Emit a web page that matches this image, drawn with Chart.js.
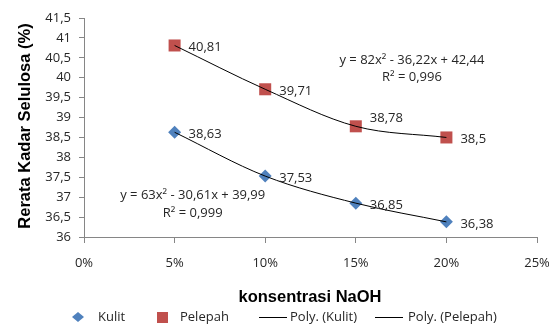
<!DOCTYPE html>
<html>
<head>
<meta charset="utf-8">
<script src="https://cdn.jsdelivr.net/npm/chart.js@4"></script>
<style>
  html, body { margin: 0; padding: 0; background: #fff; }
  #wrap { width: 549px; height: 324px; }
</style>
</head>
<body>
<div id="wrap"><canvas id="c" width="549" height="324"></canvas></div>
<script>
// data
const konsentrasi = [0.05, 0.10, 0.15, 0.20];
const kulit = [38.63, 37.53, 36.85, 36.38];
const pelepah = [40.81, 39.71, 38.78, 38.5];
const xTicks = [0, 0.05, 0.10, 0.15, 0.20, 0.25];
const eqKulit = ["y = 63x² - 30,61x + 39,99", "R² = 0,999"];
const eqPelepah = ["y = 82x² - 36,22x + 42,44", "R² = 0,996"];

const FONT = "'Open Sans', sans-serif";
const BLUE = "#4F81BD";
const RED = "#C0504D";
const TXT = "#262626";
const AXIS = "#868686";

const pts = arr => konsentrasi.map((x, i) => ({ x, y: arr[i] }));
const fmt = v => String(v).replace(".", ",");

// label tweaks (Excel moved one label up)
const labelShift = { "1-2": -8 };

const labelsPlugin = {
  id: "labels",
  afterDatasetsDraw(chart) {
    const { ctx } = chart;
    ctx.save();
    ctx.font = "13px " + FONT;
    ctx.fillStyle = TXT;
    ctx.textBaseline = "middle";
    ctx.textAlign = "left";
    [0, 1].forEach(di => {
      const meta = chart.getDatasetMeta(di);
      const data = chart.data.datasets[di].data;
      meta.data.forEach((p, i) => {
        const dy = labelShift[di + "-" + i] || 2;
        ctx.fillText(fmt(data[i].y), p.x + 14, p.y + dy);
      });
    });
    // trend equations
    const { x, y } = chart.scales;
    ctx.textAlign = "center";
    ctx.fillText(eqPelepah[0], x.getPixelForValue(0.181), y.getPixelForValue(40.45));
    ctx.fillText(eqPelepah[1], x.getPixelForValue(0.181), y.getPixelForValue(40.0));
    ctx.fillText(eqKulit[0], x.getPixelForValue(0.060), y.getPixelForValue(37.05));
    ctx.fillText(eqKulit[1], x.getPixelForValue(0.060), y.getPixelForValue(36.6));
    ctx.restore();
  }
};

const titlesPlugin = {
  id: "titles",
  afterDraw(chart) {
    const { ctx } = chart;
    ctx.save();
    ctx.fillStyle = "#000";
    ctx.font = "bold 16.5px 'Liberation Sans', Arial, sans-serif";
    ctx.textAlign = "center";
    ctx.textBaseline = "middle";
    ctx.fillText("konsentrasi NaOH", 310, 297);
    ctx.translate(25, 126);
    ctx.rotate(-Math.PI / 2);
    ctx.fillText("Rerata Kadar Selulosa (%)", 0, 0);
    ctx.restore();

    // legend
    ctx.save();
    ctx.font = "13px " + FONT;
    ctx.fillStyle = TXT;
    ctx.textBaseline = "middle";
    const ly = 317;
    ctx.fillStyle = BLUE;
    ctx.beginPath();
    ctx.moveTo(78, ly - 5); ctx.lineTo(84, ly); ctx.lineTo(78, ly + 5); ctx.lineTo(72, ly);
    ctx.closePath(); ctx.fill();
    ctx.fillStyle = TXT;
    ctx.fillText("Kulit", 98, ly);
    ctx.fillStyle = RED;
    ctx.fillRect(157, ly - 5, 11, 11);
    ctx.fillStyle = TXT;
    ctx.fillText("Pelepah", 180, ly);
    ctx.strokeStyle = "#000";
    ctx.lineWidth = 1;
    ctx.beginPath(); ctx.moveTo(259, ly + 0.5); ctx.lineTo(287, ly + 0.5); ctx.stroke();
    ctx.fillText("Poly. (Kulit)", 290, ly);
    ctx.beginPath(); ctx.moveTo(375, ly + 0.5); ctx.lineTo(403, ly + 0.5); ctx.stroke();
    ctx.fillText("Poly. (Pelepah)", 408, ly);
    ctx.restore();
  }
};

new Chart(document.getElementById("c"), {
  type: "scatter",
  data: {
    datasets: [
      { label: "Kulit", data: pts(kulit), pointStyle: "rectRot", pointRadius: 6.5, pointHoverRadius: 6.5,
        backgroundColor: BLUE, borderColor: BLUE, borderWidth: 0, order: 1 },
      { label: "Pelepah", data: pts(pelepah), pointStyle: "rect", pointRadius: 8.5, pointHoverRadius: 8.5,
        backgroundColor: RED, borderColor: RED, borderWidth: 0, order: 1 },
      { label: "Poly. (Kulit)", data: pts(kulit), showLine: true, pointRadius: 0,
        borderColor: "#000", borderWidth: 1, cubicInterpolationMode: "monotone", order: 0 },
      { label: "Poly. (Pelepah)", data: pts(pelepah), showLine: true, pointRadius: 0,
        borderColor: "#000", borderWidth: 1, cubicInterpolationMode: "monotone", order: 0 }
    ]
  },
  options: {
    responsive: false,
    animation: false,
    devicePixelRatio: 1,
    layout: { padding: { top: 18, right: 0, left: 0, bottom: 0 } },
    plugins: { legend: { display: false }, tooltip: { enabled: false } },
    scales: {
      x: {
        type: "linear", min: 0, max: 0.25,
        afterBuildTicks: s => { s.ticks = xTicks.map(v => ({ value: v })); },
        afterFit: s => { s.height = 87; s.paddingRight = 12; s.paddingLeft = 0; },
        grid: { display: true, drawOnChartArea: false, drawTicks: true, tickLength: 6, color: AXIS },
        border: { color: AXIS },
        ticks: { color: TXT, font: { family: FONT, size: 13 }, padding: 12, maxRotation: 0,
          callback: v => Math.round(v * 100) + "%" }
      },
      y: {
        min: 36, max: 41.5,
        afterFit: s => { s.width = 84; },
        grid: { display: true, drawOnChartArea: false, drawTicks: true, tickLength: 5, color: AXIS },
        border: { color: AXIS },
        ticks: { stepSize: 0.5, color: TXT, font: { family: FONT, size: 13 }, padding: 8,
          callback: v => fmt(v) }
      }
    }
  },
  plugins: [labelsPlugin, titlesPlugin]
});
</script>
</body>
</html>
